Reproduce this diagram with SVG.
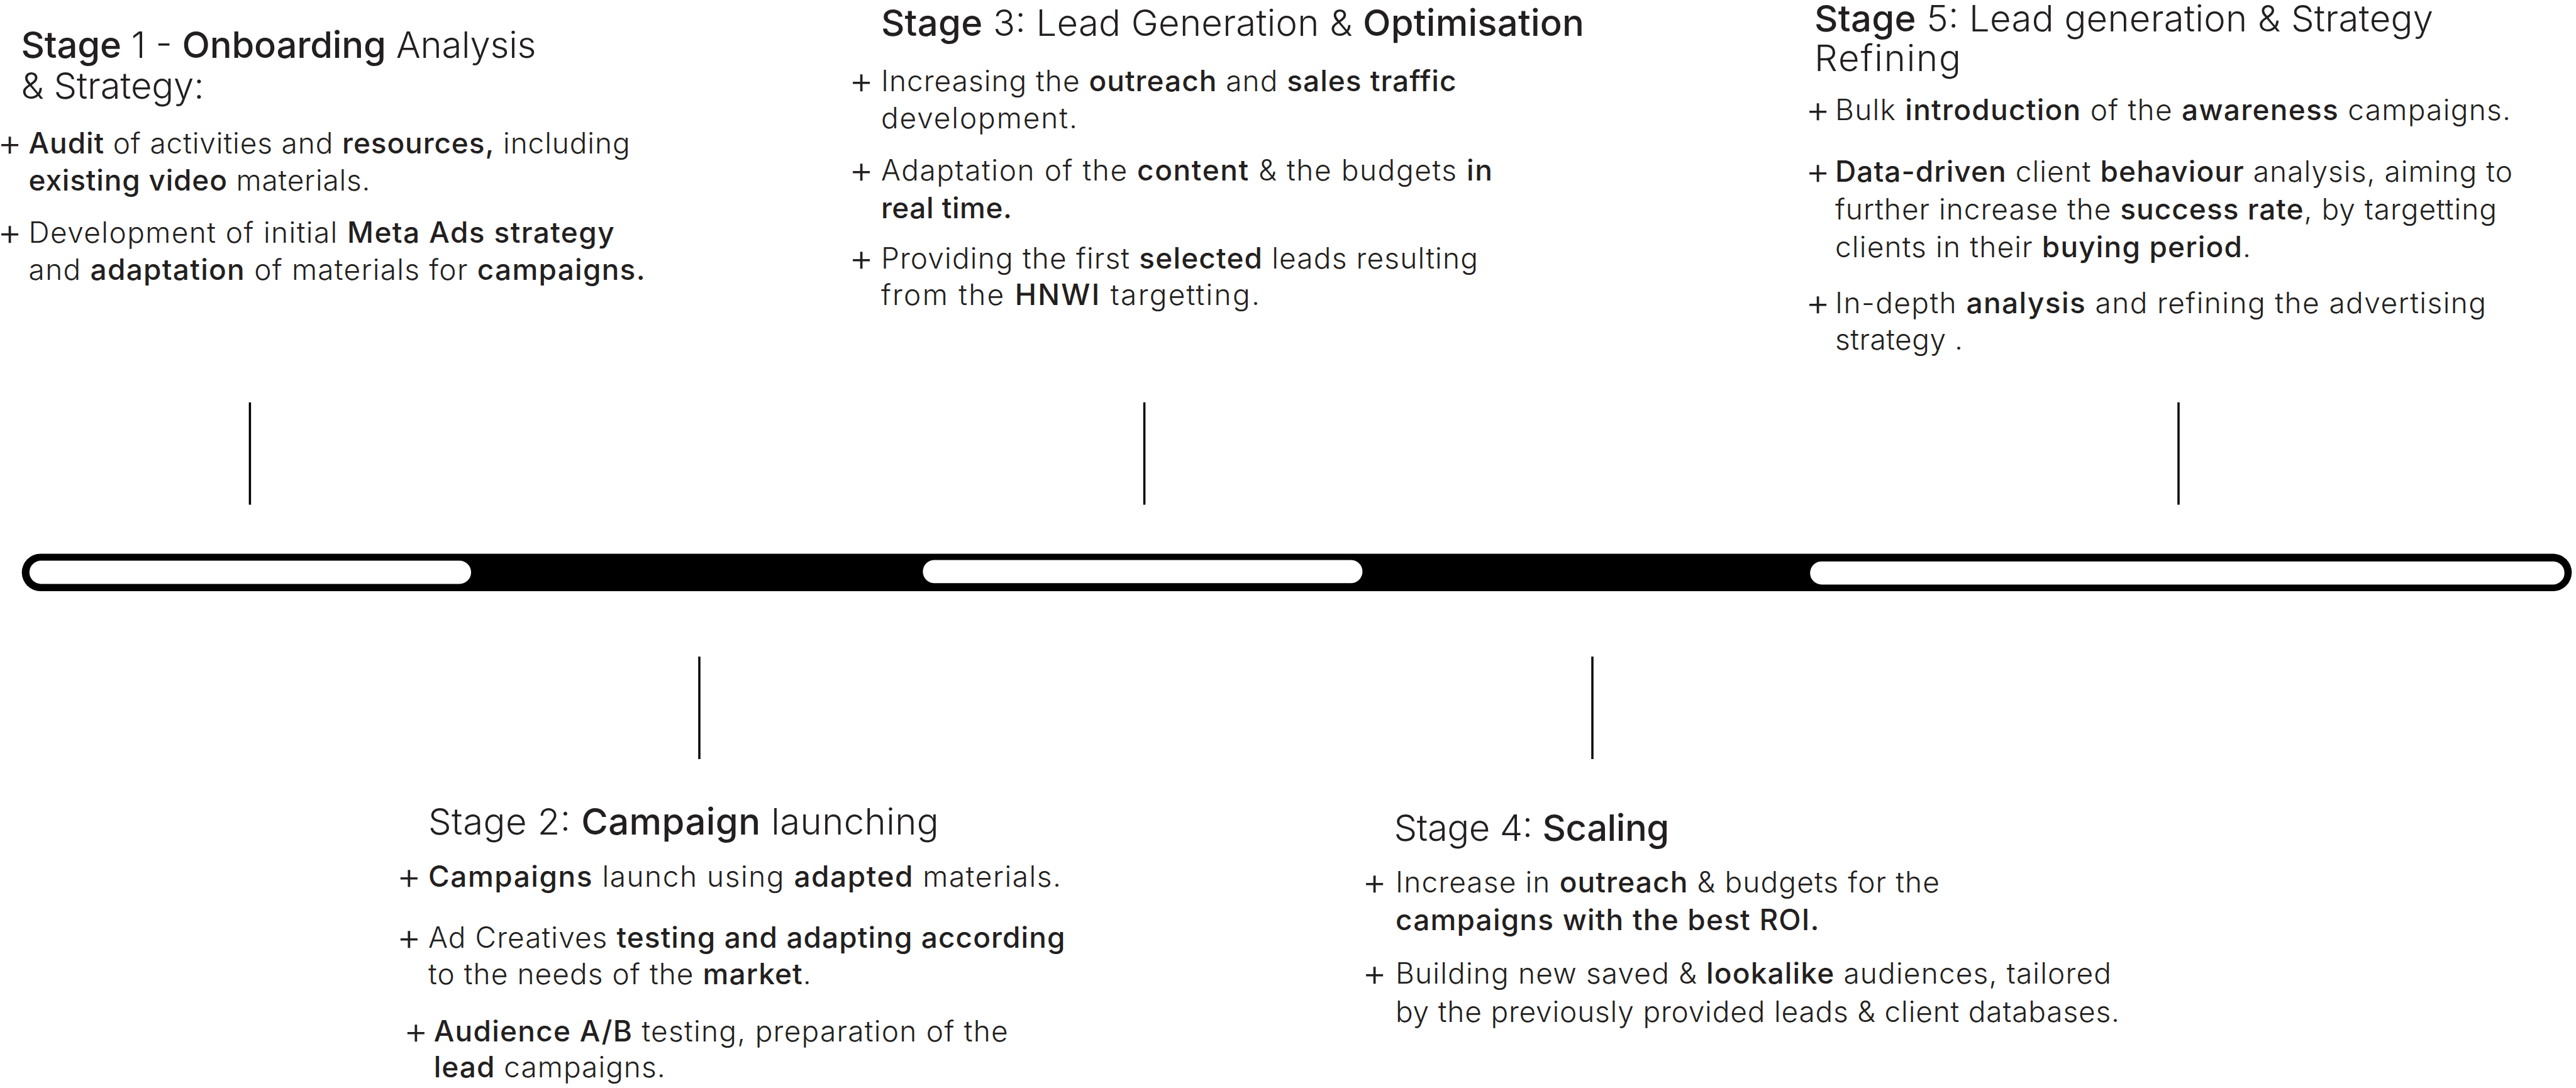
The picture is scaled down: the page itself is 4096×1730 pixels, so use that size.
<svg xmlns="http://www.w3.org/2000/svg" width="4096" height="1730" viewBox="0 0 4096 1730">
<style>
.t{font-family:Inter,'Noto Sans','Liberation Sans',sans-serif;fill:#231f20;font-weight:300}
.h{font-size:58px}
.b{font-size:46px}
.p{font-size:60px}
.m{font-weight:450}
.tick{stroke:#000;stroke-width:3.5;fill:none}
</style>
<rect width="4096" height="1730" fill="#fff"/>
<g id="timeline">
<rect x="34.65" y="880.55" width="4054.6" height="59.4" rx="29.7" fill="#000"/>
<rect x="46.75" y="891.55" width="702.35" height="36.85" rx="18.4" fill="#fff"/>
<rect x="1467.4" y="890.45" width="699" height="36.85" rx="18.4" fill="#fff"/>
<rect x="2878.15" y="892.65" width="1199.55" height="36.85" rx="18.4" fill="#fff"/>
</g>
<g id="connectors">
<line class="tick" x1="397.4" y1="639.7" x2="397.4" y2="802.5"/>
<line class="tick" x1="1819.6" y1="639.7" x2="1819.6" y2="802.5"/>
<line class="tick" x1="3464" y1="639.7" x2="3464" y2="802.5"/>
<line class="tick" x1="1112" y1="1044" x2="1112" y2="1207"/>
<line class="tick" x1="2532" y1="1044" x2="2532" y2="1207"/>
</g>
<g id="stage1">
<text class="t h" x="33.5" y="91.5" textLength="819"><tspan class="m">Stage</tspan> 1 - <tspan class="m">Onboarding</tspan> Analysis</text>
<text class="t h" x="33.5" y="157" textLength="291">&amp; Strategy:</text>
<text class="t p" x="-4" y="248">+</text>
<text class="t b" x="45.6" y="244" textLength="956"><tspan class="m">Audit</tspan> of activities and <tspan class="m">resources,</tspan> including</text>
<text class="t b" x="45.6" y="303" textLength="543"><tspan class="m">existing video</tspan> materials.</text>
<text class="t p" x="-4" y="390">+</text>
<text class="t b" x="45.6" y="386" textLength="931">Development of initial <tspan class="m">Meta Ads strategy</tspan></text>
<text class="t b" x="45.6" y="445" textLength="980">and <tspan class="m">adaptation</tspan> of materials for <tspan class="m">campaigns.</tspan></text>
</g>
<g id="stage3">
<text class="t h" x="1400.9" y="57" textLength="1118"><tspan class="m">Stage</tspan> 3: Lead Generation &amp; <tspan class="m">Optimisation</tspan></text>
<text class="t p" x="1350" y="149.2">+</text>
<text class="t b" x="1400.9" y="145.2" textLength="914.6">Increasing the <tspan class="m">outreach</tspan> and <tspan class="m">sales traffic</tspan></text>
<text class="t b" x="1400.9" y="203.5" textLength="312">development.</text>
<text class="t p" x="1350" y="290.6">+</text>
<text class="t b" x="1400.9" y="286.6" textLength="972">Adaptation of the <tspan class="m">content</tspan> &amp; the budgets <tspan class="m">in</tspan></text>
<text class="t b" x="1400.9" y="346.5" textLength="208"><tspan class="m">real time.</tspan></text>
<text class="t p" x="1350" y="430.8">+</text>
<text class="t b" x="1400.9" y="426.8" textLength="949">Providing the first <tspan class="m">selected</tspan> leads resulting</text>
<text class="t b" x="1400.9" y="485" textLength="602">from the <tspan class="m">HNWI</tspan> targetting.</text>
</g>
<g id="stage5">
<text class="t h" x="2885" y="50" textLength="984"><tspan class="m">Stage</tspan> 5: Lead generation &amp; Strategy</text>
<text class="t h" x="2885" y="113" textLength="233">Refining</text>
<text class="t p" x="2871" y="194.9">+</text>
<text class="t b" x="2918" y="190.9" textLength="1074">Bulk <tspan class="m">introduction</tspan> of the <tspan class="m">awareness</tspan> campaigns.</text>
<text class="t p" x="2871" y="293.3">+</text>
<text class="t b" x="2918" y="289.3" textLength="1077"><tspan class="m">Data-driven</tspan> client <tspan class="m">behaviour</tspan> analysis, aiming to</text>
<text class="t b" x="2918" y="349.3" textLength="1052">further increase the <tspan class="m">success rate</tspan>, by targetting</text>
<text class="t b" x="2918" y="409" textLength="661">clients in their <tspan class="m">buying period</tspan>.</text>
<text class="t p" x="2871" y="501.8">+</text>
<text class="t b" x="2918" y="497.8" textLength="1035">In-depth <tspan class="m">analysis</tspan> and refining the advertising</text>
<text class="t b" x="2918" y="555.5" textLength="203">strategy .</text>
</g>
<g id="stage2">
<text class="t h" x="681" y="1326.6" textLength="811.7">Stage 2: <tspan class="m">Campaign</tspan> launching</text>
<text class="t p" x="630.7" y="1413.7">+</text>
<text class="t b" x="681" y="1409.7" textLength="1006"><tspan class="m">Campaigns</tspan> launch using <tspan class="m">adapted</tspan> materials.</text>
<text class="t p" x="630.7" y="1511">+</text>
<text class="t b" x="681" y="1507" textLength="1012.5">Ad Creatives <tspan class="m">testing and adapting according</tspan></text>
<text class="t b" x="681" y="1564.8" textLength="608.8">to the needs of the <tspan class="m">market</tspan>.</text>
<text class="t p" x="641.7" y="1659.5">+</text>
<text class="t b" x="689.7" y="1655.5" textLength="913"><tspan class="m">Audience A/B</tspan> testing, preparation of the</text>
<text class="t b" x="689.7" y="1713" textLength="368"><tspan class="m">lead</tspan> campaigns.</text>
</g>
<g id="stage4">
<text class="t h" x="2216.5" y="1337" textLength="437.8">Stage 4: <tspan class="m">Scaling</tspan></text>
<text class="t p" x="2166" y="1422.5">+</text>
<text class="t b" x="2219" y="1418.5" textLength="865">Increase in <tspan class="m">outreach</tspan> &amp; budgets for the</text>
<text class="t b" x="2219" y="1479" textLength="673.5"><tspan class="m">campaigns with the best ROI.</tspan></text>
<text class="t p" x="2166" y="1568">+</text>
<text class="t b" x="2219" y="1564" textLength="1138">Building new saved &amp; <tspan class="m">lookalike</tspan> audiences, tailored</text>
<text class="t b" x="2219" y="1624.7" textLength="1151">by the previously provided leads &amp; client databases.</text>
</g>
</svg>
